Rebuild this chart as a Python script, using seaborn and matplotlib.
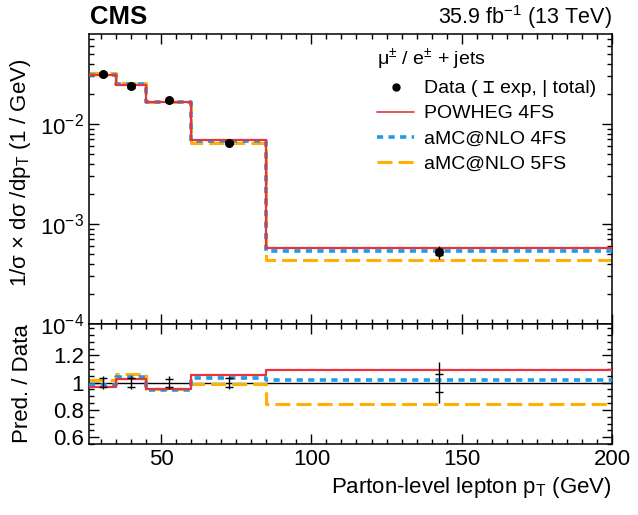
import matplotlib
matplotlib.use("Agg")
import matplotlib.pyplot as plt
from matplotlib.lines import Line2D
from matplotlib.ticker import MultipleLocator, FixedLocator, FixedFormatter
import numpy as np
import pandas as pd
import seaborn as sns

# bin edges / centres (GeV)
edges = [26, 35, 45, 60, 85, 200]
centers = [30.5, 40, 52.5, 72.5, 142.5]

# normalised cross section, 1/GeV
data_vals = [3.16e-2, 2.40e-2, 1.74e-2, 6.50e-3, 5.25e-4]
exp_rel = [0.035, 0.035, 0.030, 0.035, 0.066]
tot_rel = [0.050, 0.045, 0.045, 0.050, 0.150]

powheg_4fs = [3.07e-2, 2.46e-2, 1.653e-2, 6.86e-3, 5.72e-4]
amc_4fs = [3.11e-2, 2.50e-2, 1.644e-2, 6.73e-3, 5.36e-4]
amc_5fs = [3.21e-2, 2.56e-2, 1.662e-2, 6.44e-3, 4.41e-4]

RED = "#e8343c"
BLUE = "#1e9be8"
ORANGE = "#ffb000"

sns.set_style("ticks")
plt.rcParams['font.family'] = ['Liberation Sans', 'DejaVu Sans', 'DejaVu Sans Mono']
plt.rcParams['mathtext.fontset'] = 'custom'
plt.rcParams['mathtext.rm'] = 'Liberation Sans'
plt.rcParams['mathtext.it'] = 'Liberation Sans:italic'
plt.rcParams['mathtext.bf'] = 'Liberation Sans:bold'
plt.rcParams['axes.linewidth'] = 1.1
for key in ['axes.edgecolor', 'xtick.color', 'ytick.color', 'text.color', 'axes.labelcolor']:
    plt.rcParams[key] = 'black'

fig = plt.figure(figsize=(6.38, 5.15), dpi=100)
ax = fig.add_axes([0.1395, 0.3709, 0.8197, 0.5631])
rax = fig.add_axes([0.1395, 0.1379, 0.8197, 0.2330])


def step_line(axis, vals, color, lw, ls, z):
    df = pd.DataFrame({'x': edges, 'y': list(vals) + [vals[-1]]})
    sns.lineplot(data=df, x='x', y='y', ax=axis, color=color, lw=lw, linestyle=ls,
                 drawstyle='steps-post', legend=False, zorder=z, estimator=None, sort=False)


styles = [
    (amc_5fs, ORANGE, 2.2, (0, (4.9, 2.0)), 2),
    (amc_4fs, BLUE, 2.6, (0, (1.7, 1.5)), 3),
    (powheg_4fs, RED, 1.6, '-', 4),
]

data_arr = np.array(data_vals)
exp_arr = np.array(exp_rel)
tot_arr = np.array(tot_rel)

# upper panel
ax.set_yscale('log')
for vals, c, lw, ls, z in styles:
    step_line(ax, vals, c, lw, ls, z)
ax.vlines(centers, data_arr * (1 - tot_arr), data_arr * (1 + tot_arr), color='k', lw=1, zorder=5)
ax.errorbar(centers, data_arr, yerr=data_arr * exp_arr, fmt='none', ecolor='k',
            elinewidth=0, capsize=3, capthick=1, zorder=5)
sns.scatterplot(x=centers, y=data_vals, ax=ax, color='black', s=42, edgecolor='black',
                linewidth=0, zorder=6, legend=False)

ax.set_xlim(26, 200)
ax.set_ylim(1e-4, 0.0794)
ax.set_xlabel('')
ax.set_ylabel(r'1/$\mathrm{\sigma}$ $\times$ d$\mathrm{\sigma}$ /dp$_{\mathrm{T}}$ (1 / GeV)', fontsize=16)
ax.yaxis.set_label_coords(-0.108, 0.52)

# ratio panel
data_ratio = np.ones(len(data_vals))
for vals, c, lw, ls, z in styles:
    step_line(rax, np.array(vals) / data_arr, c, lw, ls, z)
rax.axhline(1, color='k', lw=1, zorder=1)
rax.vlines(centers, 1 - tot_arr, 1 + tot_arr, color='k', lw=1, zorder=5)
rax.errorbar(centers, data_ratio, yerr=exp_arr, fmt='none', ecolor='k',
             elinewidth=0, capsize=3, capthick=1, zorder=5)
rax.set_xlim(26, 200)
rax.set_ylim(0.55, 1.43)
rax.yaxis.set_major_locator(FixedLocator([0.6, 0.8, 1.0, 1.2]))
rax.yaxis.set_major_formatter(FixedFormatter(['0.6', '0.8', '1', '1.2']))
rax.yaxis.set_minor_locator(MultipleLocator(0.05))
rax.set_ylabel('Pred. / Data', fontsize=16)
rax.yaxis.set_label_coords(-0.108, 0.5)
rax.set_xlabel(r'Parton-level lepton p$_{\mathrm{T}}$ (GeV)', fontsize=16, loc='right')

for a in (ax, rax):
    a.xaxis.set_major_locator(MultipleLocator(50))
    a.xaxis.set_minor_locator(MultipleLocator(5))
    a.tick_params(which='both', direction='in', top=True, right=True, labelsize=16, width=1)
    a.tick_params(which='major', length=7)
    a.tick_params(which='minor', length=3.5)
ax.tick_params(labelbottom=False)

# legend
handles = [
    Line2D([], [], marker='o', color='k', ls='none', markersize=5),
    Line2D([], [], color=RED, lw=1.2),
    Line2D([], [], color=BLUE, lw=2.6, linestyle=(0, (1.7, 1.5))),
    Line2D([], [], color=ORANGE, lw=2.2, linestyle=(0, (4.9, 2.0))),
]
labels = ['Data ( \u2336 exp, | total)', 'POWHEG 4FS', 'aMC@NLO 4FS', 'aMC@NLO 5FS']
leg = ax.legend(handles, labels, loc='upper left', bbox_to_anchor=(0.551, 0.955),
                frameon=False, fontsize=14, handlelength=1.9, handletextpad=0.5,
                labelspacing=0.38, borderpad=0, borderaxespad=0,
                title='\u03bc$^{\\pm}$ / e$^{\\pm}$ + jets', title_fontsize=14, alignment='left')
leg.get_texts()[0].set_family(['Liberation Sans', 'DejaVu Sans', 'DejaVu Sans Mono'])

fig.text(90 / 638, 1 - 17 / 515, 'CMS', fontsize=18.5, fontweight='bold', ha='left', va='center')
fig.text(612 / 638, 1 - 17 / 515, '35.9 fb$^{-1}$ (13 TeV)', fontsize=15.5, ha='right', va='center')

fig.savefig('out.png', dpi=100)
